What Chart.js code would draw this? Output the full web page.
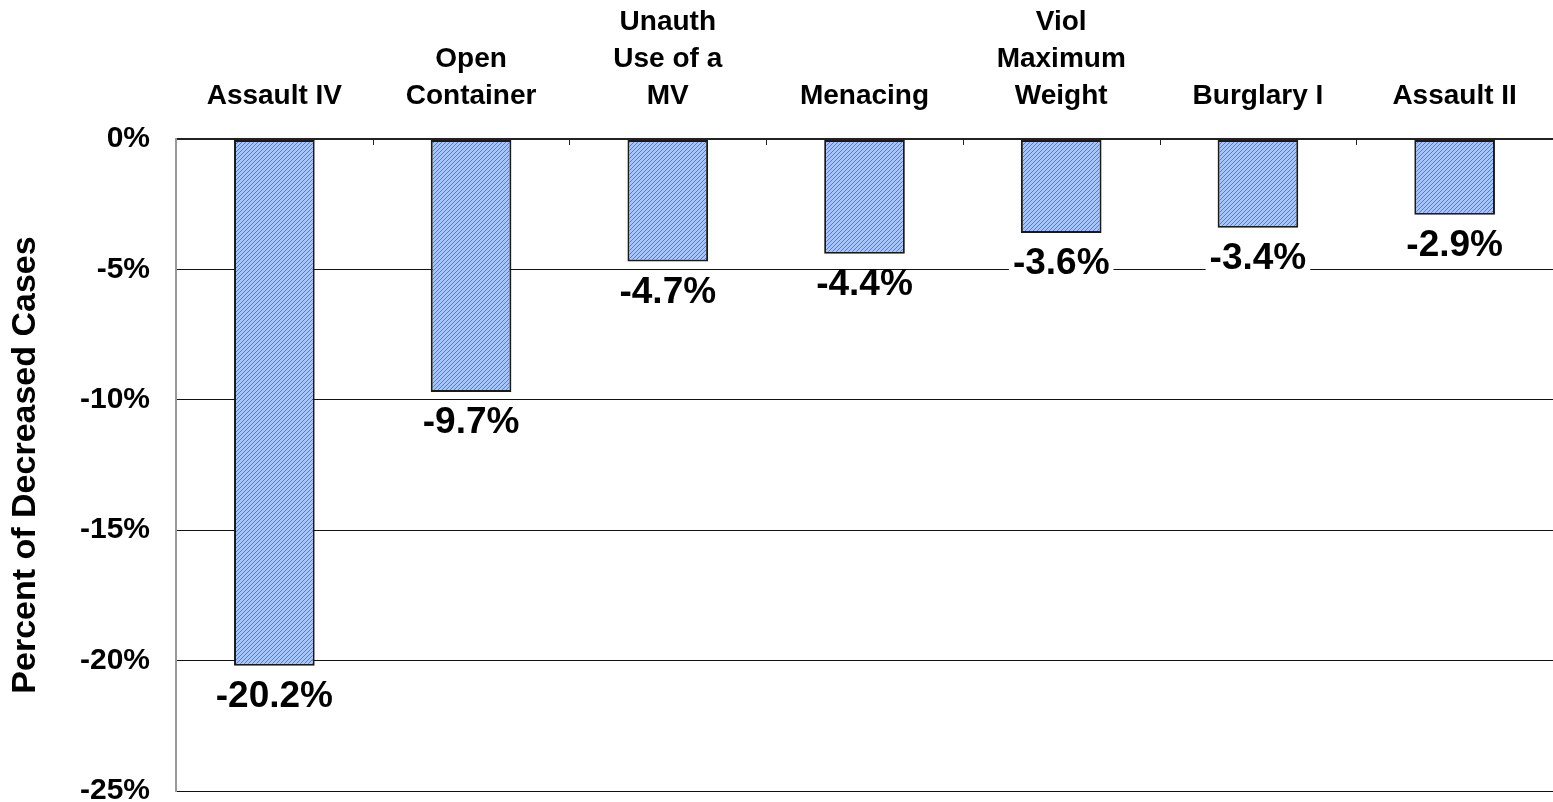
<!DOCTYPE html>
<html lang="en">
<head>
  <meta charset="UTF-8">
  <title>Percent of Decreased Cases</title>
  <script src="https://cdn.jsdelivr.net/npm/chart.js"></script>
  <style>
    body {
      margin: 0;
      background: #fff;
    }
    #wrap {
      width: 1553px;
      height: 802px;
      position: relative;
    }
  </style>
</head>
<body>
  <div id="wrap">
    <canvas id="chart"></canvas>
  </div>

  <script>
    // data
    const categories = [
      ['Assault IV'],
      ['Open', 'Container'],
      ['Unauth', 'Use of a', 'MV'],
      ['Menacing'],
      ['Viol', 'Maximum', 'Weight'],
      ['Burglary I'],
      ['Assault II']
    ];
    const changes = [-20.2, -9.7, -4.7, -4.4, -3.6, -3.4, -2.9];
    const yTicks = [0, -5, -10, -15, -20, -25];
    const yTitle = 'Percent of Decreased Cases';

    const FONT = 'Arial, "Liberation Sans", sans-serif';

    // blue hatch fill like the old office chart
    function hatchFill() {
      const c = document.createElement('canvas');
      c.width = 4;
      c.height = 4;
      const g = c.getContext('2d');
      g.fillStyle = '#a8c4ff';
      g.fillRect(0, 0, 4, 4);
      g.fillStyle = '#5876dc';
      for (let i = 0; i < 4; i++) g.fillRect(i, 3 - i, 1, 1);
      return g.createPattern(c, 'repeat');
    }

    // value labels under each bar, with a white box behind them
    const valueLabels = {
      id: 'valueLabels',
      afterDatasetsDraw(chart) {
        const ctx = chart.ctx;
        const meta = chart.getDatasetMeta(0);
        ctx.save();
        ctx.font = 'bold 37px ' + FONT;
        ctx.textAlign = 'center';
        ctx.textBaseline = 'middle';
        meta.data.forEach((bar, i) => {
          const txt = changes[i].toFixed(1) + '%';
          const w = ctx.measureText(txt).width;
          const y = bar.y + 31;
          ctx.fillStyle = '#fff';
          ctx.fillRect(bar.x - w / 2 - 4, y - 14, w + 8, 28);
          ctx.fillStyle = '#000';
          ctx.fillText(txt, bar.x, y);
        });
        ctx.restore();
      }
    };

    // small tick marks hanging below the 0% line between categories
    const catTicks = {
      id: 'catTicks',
      afterDraw(chart) {
        const ctx = chart.ctx;
        const x = chart.scales.x;
        const top = chart.chartArea.top;
        ctx.save();
        ctx.strokeStyle = '#222';
        ctx.lineWidth = 1;
        for (let i = 1; i < categories.length; i++) {
          const px = Math.round((x.getPixelForTick(i - 1) + x.getPixelForTick(i)) / 2) + 0.5;
          ctx.beginPath();
          ctx.moveTo(px, top);
          ctx.lineTo(px, top + 6);
          ctx.stroke();
        }
        ctx.restore();
      }
    };

    new Chart(document.getElementById('chart'), {
      type: 'bar',
      data: {
        labels: categories,
        datasets: [{
          data: changes,
          backgroundColor: hatchFill(),
          borderColor: '#1a1a1a',
          borderWidth: 2,
          borderSkipped: false,
          barPercentage: 0.41,
          categoryPercentage: 1
        }]
      },
      options: {
        responsive: true,
        maintainAspectRatio: false,
        animation: false,
        layout: { padding: { top: 0, right: 0, bottom: 11, left: 0 } },
        plugins: {
          legend: { display: false },
          tooltip: { enabled: false }
        },
        scales: {
          x: {
            position: 'top',
            grid: { display: false, drawTicks: false },
            border: { display: true, color: '#222', width: 2 },
            ticks: {
              color: '#000',
              padding: 24,
              maxRotation: 0,
              autoSkip: false,
              font: { family: FONT, size: 28, weight: 'bold', lineHeight: 1.32 }
            },
            afterFit: s => { s.height = 139; }
          },
          y: {
            min: Math.min(...yTicks),
            max: Math.max(...yTicks),
            grid: {
              drawTicks: false,
              color: ctx => ctx.index === 0 ? '#999' : '#111',
              lineWidth: ctx => ctx.index === 0 ? 2 : 1
            },
            border: { display: true, color: '#999', width: 2 },
            afterBuildTicks: s => { s.ticks = yTicks.map(v => ({ value: v })); },
            ticks: {
              color: '#000',
              padding: 26,
              callback: v => v + '%',
              font: { family: FONT, size: 30, weight: 'bold' }
            },
            title: {
              display: true,
              text: yTitle,
              color: '#000',
              padding: { top: 5, bottom: 0 },
              font: { family: FONT, size: 34, weight: 'bold' }
            },
            afterFit: s => {
              s.width = 176;
              s.paddingTop = 0;
              s.paddingBottom = 0;
            }
          }
        }
      },
      plugins: [valueLabels, catTicks]
    });
  </script>
</body>
</html>
